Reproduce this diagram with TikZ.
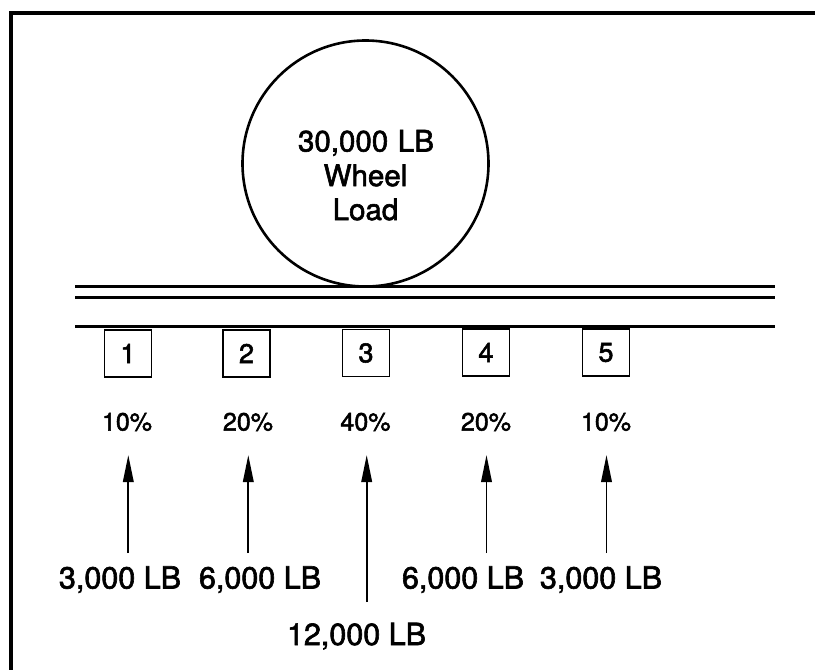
\documentclass[tikz,border=0pt]{standalone}
\usepackage{fontspec}
\setmainfont{TeX Gyre Heros}[FakeBold=2]
\usetikzlibrary{arrows.meta}
\tikzset{
  frameline/.style={line width=4pt},
  railline/.style={line width=2.7pt},
  numbox/.style={draw, line width=1.5pt, minimum width=47pt, minimum height=47pt, inner sep=0pt, font=\fontsize{27}{30}\selectfont},
  pct/.style={anchor=base, inner sep=0pt, font=\fontsize{25}{28}\selectfont},
  lbl/.style={anchor=base, inner sep=0pt, font=\fontsize{30.5}{33}\selectfont},
  wtext/.style={anchor=base, inner sep=0pt, font=\fontsize{29.5}{33}\selectfont},
  force/.style={line width=1.9pt, -{Triangle[length=27pt,width=10.5pt]}},
}
\begin{document}
\begin{tikzpicture}[x=1pt,y=-1pt]
\useasboundingbox (0,0) rectangle (815,670);
% frame (left and top visible)
\draw[frameline] (10.5,670) -- (10.5,12.5) -- (815,12.5);
% wheel
\node[draw, circle, line width=2.6pt, minimum size=246pt, inner sep=0pt] (wheel) at (365.5,163.5) {};
\node[wtext] (w1) at (366,151.5) {30,000\kern1.5pt{} LB};
\node[wtext] (w2) at (365.5,186) {Wheel};
\node[wtext] (w3) at (365.5,220) {Load};
% rails
\draw[railline] (75,286.7) -- (775,286.7);
\draw[railline] (75,297.3) -- (775,297.3);
\draw[railline] (75,326.7) -- (775,326.7);
% boxes
\node[numbox] (b1) at (128,353.5) {1};
\node[numbox] (b2) at (246.5,353.5) {2};
\node[numbox] (b3) at (366,353) {3};
\node[numbox] (b4) at (486,352.5) {4};
\node[numbox] (b5) at (606,352.5) {5};
% percentages
\node[pct] (p1) at (127,430.5) {10\%};
\node[pct] (p2) at (248,430.5) {20\%};
\node[pct] (p3) at (365.5,430.5) {40\%};
\node[pct] (p4) at (486,430.5) {20\%};
\node[pct] (p5) at (606,430.5) {10\%};
% arrows
\coordinate (h1) at (128.3,455); \coordinate (t1) at (128.3,553);
\coordinate (h2) at (248.3,455); \coordinate (t2) at (248.3,553);
\coordinate (h3) at (366.7,455); \coordinate (t3) at (366.7,602);
\coordinate (h4) at (486.5,455); \coordinate (t4) at (486.5,553);
\coordinate (h5) at (606.5,455); \coordinate (t5) at (606.5,553);
\draw[force] (t1) -- (h1);
\draw[force] (t2) -- (h2);
\draw[force] (t3) -- (h3);
\draw[force] (t4) -- (h4);
\draw[force] (t5) -- (h5);
% load labels
\node[lbl] (l1) at (120,588.5) {3,000 LB};
\node[lbl] (l2) at (260,588.5) {6,000 LB};
\node[lbl] (l3) at (356.5,645) {12,000 LB};
\node[lbl] (l4) at (463,588.5) {6,000 LB};
\node[lbl] (l5) at (601,588.5) {3,000 LB};
\end{tikzpicture}
\end{document}
